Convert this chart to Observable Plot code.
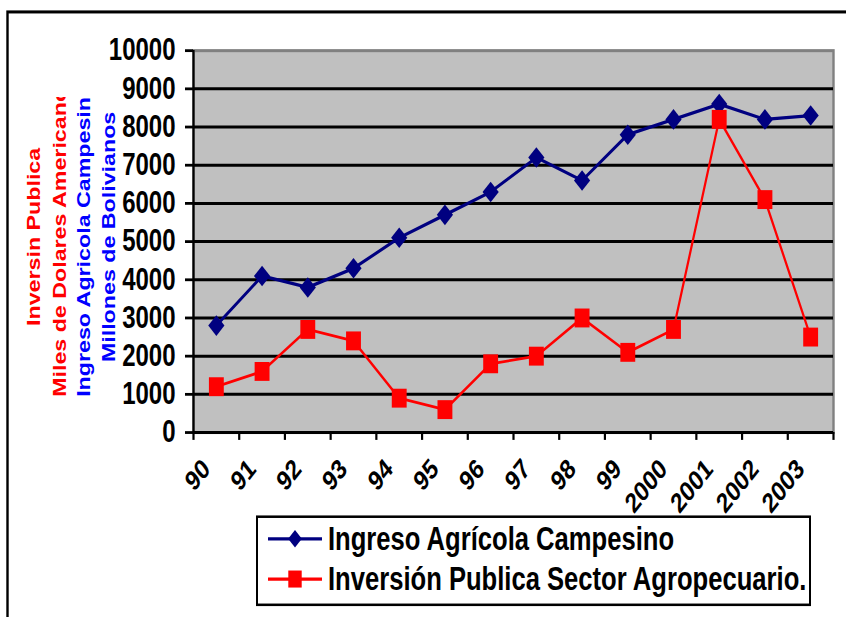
<!DOCTYPE html>
<html><head><meta charset="utf-8">
<script src="https://cdn.jsdelivr.net/npm/d3@7"></script>
<script src="https://cdn.jsdelivr.net/npm/@observablehq/plot@0.6"></script>
<style>
html,body{margin:0;padding:0;background:#fff}
#wrap{width:846px;height:617px;}
</style></head><body><div id="wrap"></div>
<script>
// ---- data ----
const years = ["90","91","92","93","94","95","96","97","98","99","2000","2001","2002","2003"];
const ingreso = [2800,4100,3800,4300,5100,5700,6300,7200,6600,7800,8200,8600,8200,8300];
const inversion = [1200,1600,2700,2400,900,600,1800,2000,3000,2100,2700,8200,6100,2500];
const yTicks = [0,1000,2000,3000,4000,5000,6000,7000,8000,9000,10000];
const seriesNames = ["Ingreso Agrícola Campesino","Inversión Publica Sector Agropecuario."];
const seriesColors = ["#000080","#FF0000"];
const titleLines = ["Inversin Publica","Miles de Dolares Americanos","Ingreso Agricola Campesino","Millones de Bolivianos"];
const titleColors = ["#FF0000","#FF0000","#0000FF","#0000FF"];

const FONT = "'Liberation Sans', Arial, Helvetica, sans-serif";
const idx = years.map((_, i) => i);
const H = 486; // drawing height, stretched vertically to 617 px on screen

const plot = Plot.plot({
  width: 846, height: H,
  marginLeft: 193, marginRight: 13, marginTop: 39.4, marginBottom: 145.8,
  style: {fontFamily: FONT, color: "black", background: "white"},
  x: {type: "linear", domain: [0, years.length], axis: null},
  y: {domain: [0, 10000], axis: null},
  marks: [
    Plot.frame({fill: "#C0C0C0", stroke: "#808080", strokeWidth: 2.4}),
    Plot.gridY(yTicks.filter(v => v > 0 && v < 10000), {stroke: "black", strokeOpacity: 1, strokeWidth: 2.4}),
    Plot.axisY(yTicks, {tickSize: 8, tickPadding: 10, fontSize: 24, fontWeight: "bold", strokeWidth: 2.2, tickFormat: d3.format("d")}),
    Plot.ruleX([0], {stroke: "black", strokeWidth: 2.2}),
    Plot.ruleY([0], {stroke: "black", strokeWidth: 2.4}),
    Plot.axisX(d3.range(0, years.length + 1), {tickSize: 6.3, tickFormat: () => "", strokeWidth: 2.2}),
    Plot.text(idx, {x: i => i + 0.5, frameAnchor: "bottom", text: i => years[i], rotate: -45,
      textAnchor: "end", lineAnchor: "middle", dx: -10, dy: 25, fontSize: 22, fontWeight: "bold", fill: "black"}),
    Plot.line(idx, {x: i => i + 0.5, y: i => ingreso[i], stroke: seriesColors[0], strokeWidth: 2.6}),
    Plot.dot(idx, {x: i => i + 0.5, y: i => ingreso[i], symbol: "diamond2", r: 7.3, fill: seriesColors[0], stroke: null}),
    Plot.line(idx, {x: i => i + 0.5, y: i => inversion[i], stroke: seriesColors[1], strokeWidth: 2.2}),
    Plot.dot(idx, {x: i => i + 0.5, y: i => inversion[i], symbol: "square", r: 8.4, fill: seriesColors[1], stroke: null})
  ]
});
plot.setAttribute("viewBox", `0 0 846 ${H}`);
plot.setAttribute("preserveAspectRatio", "none");
plot.setAttribute("height", 617);
plot.style.height = "617px";
plot.style.width = "846px";
plot.style.maxWidth = "none";
document.getElementById("wrap").appendChild(plot);

(function () {
  const svg = d3.select(plot);
  // outer frame
  svg.append("rect").attr("x", 7.5).attr("y", 9.4).attr("width", 900).attr("height", 600)
    .attr("fill", "none").attr("stroke", "black").attr("stroke-width", 2.4);

  // y axis titles (clipped)
  svg.append("clipPath").attr("id", "tclip").append("rect")
    .attr("x", 0).attr("y", 76.4).attr("width", 190).attr("height", 236.2);
  const tg = svg.append("g").attr("clip-path", "url(#tclip)")
    .attr("font-family", FONT).attr("font-weight", "bold").attr("font-size", 18.3);
  const bases = [40, 66, 89.5, 115];
  const yTop = 76.4, yBottom = 312.6, yMid = 186.6;
  titleLines.forEach((t, i) => {
    const el = tg.append("text").attr("fill", titleColors[i]).text(t);
    const len = el.node().getComputedTextLength();
    if (len > yBottom - yTop) {
      el.attr("text-anchor", "start").attr("transform", `translate(${bases[i]},${yBottom}) rotate(-90)`);
    } else {
      el.attr("text-anchor", "middle").attr("transform", `translate(${bases[i]},${yMid}) rotate(-90)`);
    }
  });

  // legend
  const lg = svg.append("g").attr("font-family", FONT).attr("text-anchor", "start");
  lg.append("rect").attr("x", 257).attr("y", 407).attr("width", 553).attr("height", 69.4)
    .attr("fill", "white").attr("stroke", "black").attr("stroke-width", 2);
  const rows = [424.4, 456.1];
  const syms = [d3.symbol(d3.symbolDiamond2, 120)(), d3.symbol(d3.symbolSquare, 180)()];
  seriesNames.forEach((name, i) => {
    const g = lg.append("g").attr("transform", `translate(0,${rows[i]})`);
    g.append("line").attr("x1", 268).attr("x2", 322).attr("stroke", seriesColors[i]).attr("stroke-width", 2.5);
    g.append("path").attr("d", syms[i]).attr("transform", "translate(295,0)").attr("fill", seriesColors[i]);
    g.append("text").attr("x", 328).attr("dy", "0.35em").attr("font-size", 25.6).attr("font-weight", "bold")
      .attr("text-anchor", "start").attr("fill", "black").text(name);
  });
})();
</script>
</body></html>
